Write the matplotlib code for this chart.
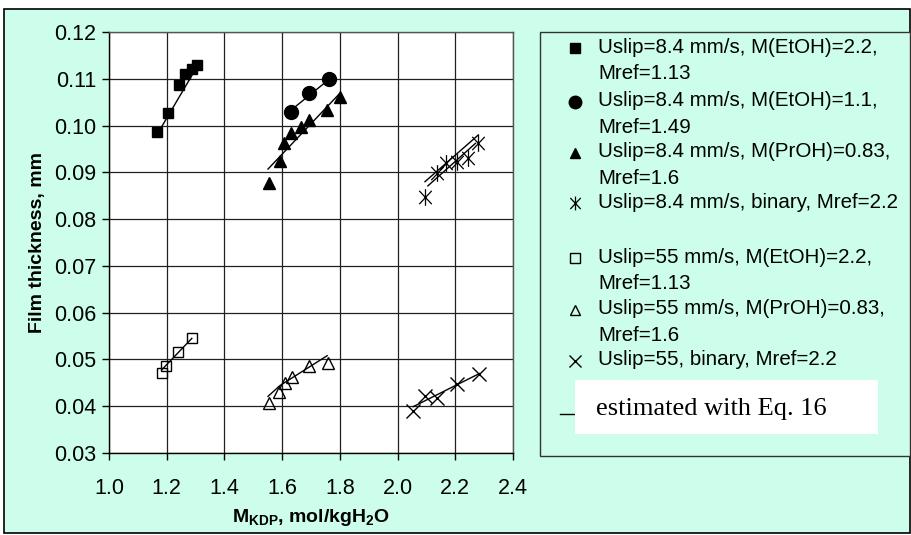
import matplotlib
matplotlib.use("Agg")
import matplotlib.pyplot as plt
from matplotlib.patches import Rectangle
from matplotlib.lines import Line2D
from matplotlib.path import Path

plt.rcParams['font.family'] = ['Liberation Sans', 'DejaVu Sans']
plt.rcParams['mathtext.default'] = 'regular'

# Measured film thickness (mm) vs KDP molality
sq_fill_x = [1.167, 1.204, 1.241, 1.263, 1.287, 1.306]
sq_fill_y = [0.0986, 0.1027, 0.1087, 0.1110, 0.1120, 0.1129]

circ_x = [1.631, 1.694, 1.763]
circ_y = [0.1029, 0.1069, 0.1099]

tri_fill_x = [1.554, 1.591, 1.607, 1.631, 1.664, 1.693, 1.754, 1.801]
tri_fill_y = [0.0878, 0.0925, 0.0962, 0.0984, 0.0997, 0.1011, 0.1033, 0.1062]

star_x = [2.095, 2.135, 2.168, 2.205, 2.245, 2.280]
star_y = [0.0848, 0.0898, 0.0919, 0.0923, 0.0931, 0.0963]

sq_open_x = [1.183, 1.198, 1.240, 1.287]
sq_open_y = [0.0472, 0.0486, 0.0515, 0.0546]

tri_open_x = [1.556, 1.590, 1.610, 1.633, 1.694, 1.758]
tri_open_y = [0.0407, 0.0431, 0.0449, 0.0463, 0.0485, 0.0492]

cross_x = [2.054, 2.095, 2.136, 2.207, 2.282]
cross_y = [0.0389, 0.0421, 0.0417, 0.0448, 0.0469]

# Values estimated with Eq. 16
est_sq_fill_x = [1.183, 1.292]
est_sq_fill_y = [0.0998, 0.1112]
est_circ_x = [1.635, 1.763]
est_circ_y = [0.1035, 0.1099]
est_tri_fill_x = [1.551, 1.800]
est_tri_fill_y = [0.0907, 0.1069]
est_star_x = [2.095, 2.280]
est_star_y = [0.0880, 0.0980]
est_star2_x = [2.105, 2.270]
est_star2_y = [0.0871, 0.0962]
est_sq_open_x = [1.183, 1.287]
est_sq_open_y = [0.0478, 0.0545]
est_tri_open_x = [1.551, 1.592, 1.756]
est_tri_open_y = [0.0421, 0.0444, 0.0508]
est_cross_x = [2.054, 2.284]
est_cross_y = [0.0399, 0.0470]

x_ticks = [1.0, 1.2, 1.4, 1.6, 1.8, 2.0, 2.2, 2.4]
y_ticks = [0.03, 0.04, 0.05, 0.06, 0.07, 0.08, 0.09, 0.10, 0.11, 0.12]

legend_labels = [
    "Uslip=8.4 mm/s, M(EtOH)=2.2,\nMref=1.13",
    "Uslip=8.4 mm/s, M(EtOH)=1.1,\nMref=1.49",
    "Uslip=8.4 mm/s, M(PrOH)=0.83,\nMref=1.6",
    "Uslip=8.4 mm/s, binary, Mref=2.2",
    "Uslip=55 mm/s, M(EtOH)=2.2,\nMref=1.13",
    "Uslip=55 mm/s, M(PrOH)=0.83,\nMref=1.6",
    "Uslip=55, binary, Mref=2.2",
]

# asterisk-like marker: vertical bar crossed by an X
star_marker = Path(
    [(0, -1), (0, 1), (-0.75, -0.8), (0.75, 0.8), (-0.75, 0.8), (0.75, -0.8)],
    [Path.MOVETO, Path.LINETO, Path.MOVETO, Path.LINETO, Path.MOVETO, Path.LINETO])

MINT = '#CCFEEB'
W, H = 912, 535
fig = plt.figure(figsize=(W / 100, H / 100), dpi=100, facecolor='white')

# outer chart frame
fig.add_artist(Rectangle((4 / W, 1 - 533 / H), 906 / W, 524 / H,
                         transform=fig.transFigure, facecolor=MINT,
                         edgecolor='black', lw=1.2, zorder=-10))

ax = fig.add_axes([109 / W, 1 - 453 / H, 404 / W, 421 / H])
ax.set_facecolor('white')
ax.set_xlim(1.0, 2.4)
ax.set_ylim(0.03, 0.12)
ax.set_xticks(x_ticks)
ax.set_yticks(y_ticks)
ax.set_xticklabels([f"{v:.1f}" for v in x_ticks])
ax.set_yticklabels([f"{v:.2f}" for v in y_ticks])
ax.grid(True, color='#202020', lw=0.9)
ax.set_axisbelow(True)
for s in ax.spines.values():
    s.set_color('#555555')
    s.set_linewidth(1.0)
ax.spines['left'].set_color('black')
ax.spines['bottom'].set_color('black')
ax.tick_params(direction='out', length=5, width=1, labelsize=15.5, pad=4)
ax.tick_params(axis='x', pad=13)

lc = dict(color='black', lw=1.0, zorder=2)
ax.plot(est_sq_fill_x, est_sq_fill_y, **lc)
ax.plot(est_circ_x, est_circ_y, **lc)
ax.plot(est_tri_fill_x, est_tri_fill_y, **lc)
ax.plot(est_star_x, est_star_y, **lc)
ax.plot(est_star2_x, est_star2_y, **lc)
ax.plot(est_sq_open_x, est_sq_open_y, **lc)
ax.plot(est_tri_open_x, est_tri_open_y, **lc)
ax.plot(est_cross_x, est_cross_y, **lc)

styles = [
    dict(marker='s', ms=7.5, mfc='black', mec='black'),
    dict(marker='o', ms=10, mfc='black', mec='black'),
    dict(marker='^', ms=8.5, mfc='black', mec='black'),
    dict(marker=star_marker, ms=12, mfc='none', mec='black', mew=0.9),
    dict(marker='s', ms=7.5, mfc='none', mec='black', mew=1.0),
    dict(marker='^', ms=9, mfc='none', mec='black', mew=1.0),
    dict(marker='x', ms=10, mfc='none', mec='black', mew=1.0),
]
series = [(sq_fill_x, sq_fill_y), (circ_x, circ_y), (tri_fill_x, tri_fill_y),
          (star_x, star_y), (sq_open_x, sq_open_y), (tri_open_x, tri_open_y),
          (cross_x, cross_y)]
for (xs, ys), st in zip(series, styles):
    ax.plot(xs, ys, ls='none', zorder=3, **st)

ax.set_xlabel(r"M$_{KDP}$, mol/kgH$_2$O", fontsize=14, fontweight='bold',
              labelpad=6)
ax.set_ylabel("Film thickness, mm", fontsize=14, fontweight='bold', labelpad=6)

# legend panel
fig.add_artist(Rectangle((540 / W, 1 - 456 / H), 370 / W, 424 / H,
                         transform=fig.transFigure, facecolor=MINT,
                         edgecolor='#333333', lw=1.0, zorder=1))
rows = [48.3, 101.7, 152.7, 203.3, 258.3, 310, 360.7]
leg_ms = [6.5, 9, 7.5, 10, 6.5, 7.5, 9]
for y, lab, st, ms in zip(rows, legend_labels, styles, leg_ms):
    s2 = dict(st)
    s2['ms'] = ms
    fig.add_artist(Line2D([575.5 / W], [1 - y / H], transform=fig.transFigure,
                          ls='none', zorder=3, **s2))
    fig.text(598 / W, 1 - (y - 10.5) / H, lab, fontsize=14.8, va='top',
             ha='left', linespacing=1.5, zorder=3)

fig.add_artist(Line2D([560 / W, 580 / W], [1 - 413.5 / H, 1 - 413.5 / H],
                      transform=fig.transFigure, color='black', lw=1.0,
                      zorder=3))
fig.add_artist(Rectangle((575 / W, 1 - 433.5 / H), 303 / W, 53.5 / H,
                         transform=fig.transFigure, facecolor='white',
                         edgecolor='none', zorder=4))
fig.text(596 / W, 1 - 407 / H, "estimated with Eq. 16", fontsize=19,
         family=['Liberation Serif', 'DejaVu Serif'], va='center_baseline',
         ha='left', zorder=5)

fig.savefig("out.png", dpi=100, facecolor='white')
